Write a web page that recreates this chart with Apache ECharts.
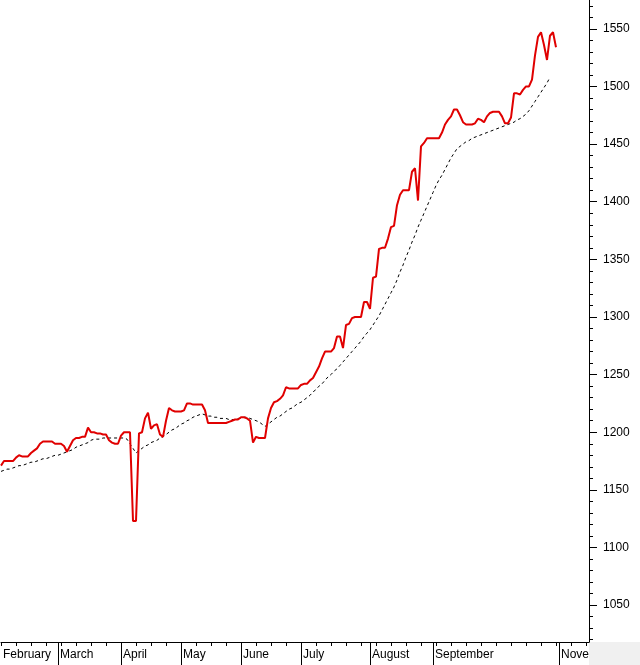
<!DOCTYPE html>
<html>
<head>
<meta charset="utf-8">
<script src="https://cdn.jsdelivr.net/npm/echarts@6/dist/echarts.min.js"></script>
<style>
  html, body { margin: 0; padding: 0; background: #fff; }
  #chart { width: 640px; height: 665px; }
</style>
</head>
<body>
<div id="chart"></div>
<script>
// trading-day index -> month label (only at month starts)
const monthStarts = { 0: 'February', 19: 'March', 40: 'April', 60: 'May', 80: 'June', 100: 'July', 123: 'August', 144: 'September', 186: 'Nove' };
const dayCount = 197;

// daily close
const closes = [
  1171, 1175, 1175, 1175, 1175, 1178, 1180, 1179, 1179, 1179,
  1182, 1184, 1186, 1190, 1192, 1192, 1192, 1192, 1190, 1190,
  1190, 1188, 1183, 1188, 1193, 1195, 1195, 1196, 1196, 1204,
  1200, 1200, 1199, 1199, 1198, 1198, 1193, 1191, 1190, 1190,
  1197, 1200, 1200, 1200, 1123, 1123, 1199, 1200, 1212, 1217,
  1203, 1206, 1207, 1198, 1196, 1210, 1221, 1219, 1218, 1218,
  1218, 1219, 1225, 1225, 1224, 1224, 1224, 1224, 1219, 1208,
  1208, 1208, 1208, 1208, 1208, 1208, 1209, 1210, 1211, 1211,
  1213, 1213, 1212, 1210, 1191, 1196, 1195, 1195, 1195, 1212,
  1221, 1226, 1227, 1229, 1232, 1239, 1238, 1238, 1238, 1238,
  1241, 1242, 1242, 1245, 1247, 1252, 1257, 1264, 1270, 1270,
  1270, 1273, 1283, 1283, 1273, 1293, 1294, 1299, 1300, 1300,
  1300, 1313, 1313, 1307, 1334, 1335, 1359, 1360, 1360, 1368,
  1378, 1379, 1397, 1406, 1410, 1410, 1410, 1426, 1429, 1401,
  1448, 1451, 1455, 1455, 1455, 1455, 1455, 1460, 1467, 1471,
  1474, 1480, 1480, 1475, 1469, 1467, 1467, 1467, 1468, 1472,
  1471, 1469, 1474, 1477, 1478, 1478, 1478, 1474, 1468, 1468,
  1473, 1494, 1494, 1493, 1497, 1500, 1500, 1506, 1527, 1543,
  1547, 1536, 1523, 1544, 1547, 1534
];

// moving average
const average = [
  1166, 1167, 1168, 1168, 1169, 1170, 1171, 1171, 1172, 1173,
  1174, 1174, 1175, 1176, 1177, 1177, 1178, 1179, 1180, 1180,
  1181, 1182, 1183, 1184, 1185, 1187, 1188, 1189, 1190, 1191,
  1193, 1194, 1194, 1194, 1195, 1195, 1195, 1195, 1195, 1195,
  1195, 1195, 1194, 1190, 1186, 1182, 1184, 1186, 1188, 1189,
  1191, 1192, 1193, 1195, 1196, 1198, 1200, 1202, 1203, 1205,
  1207, 1208, 1210, 1211, 1213, 1214, 1215, 1216, 1215, 1214,
  1214, 1213, 1213, 1212, 1212, 1212, 1211, 1211, 1211, 1212,
  1212, 1213, 1213, 1212, 1211, 1210, 1209, 1207, 1205, 1207,
  1209, 1211, 1213, 1214, 1216, 1218, 1220, 1221, 1223, 1225,
  1226, 1228, 1230, 1232, 1235, 1237, 1240, 1242, 1245, 1248,
  1250, 1253, 1255, 1258, 1261, 1264, 1267, 1270, 1273, 1276,
  1279, 1283, 1286, 1289, 1293, 1297, 1301, 1306, 1311, 1316,
  1321, 1326, 1332, 1339, 1345, 1352, 1358, 1365, 1371, 1378,
  1384, 1390, 1396, 1402, 1408, 1414, 1419, 1423, 1428, 1433,
  1438, 1442, 1446, 1448, 1450, 1452, 1453, 1455, 1456, 1457,
  1458, 1459, 1460, 1461, 1462, 1463, 1464, 1465, 1466, 1467,
  1468, 1469, 1471, 1472, 1474, 1476, 1479, 1483, 1487, 1491,
  1495, 1499, 1503, 1508
];

const priceTicks = [1050, 1100, 1150, 1200, 1250, 1300, 1350, 1400, 1450, 1500, 1550];
const minorTicks = [];
for (let v = 1020; v <= 1570; v += 10) minorTicks.push(v);

const days = [];
for (let i = 0; i < dayCount; i++) days.push(monthStarts[i] || '');

const yMin = 1018, yMax = 1575;
const font = 'Liberation Sans, Arial, sans-serif';

const chart = echarts.init(document.getElementById('chart'));
chart.setOption({
  animation: false,
  grid: { left: 0, right: 51, top: 0, bottom: 23 },
  graphic: [{
    type: 'rect', right: 0, bottom: 0,
    shape: { width: 51, height: 23 },
    style: { fill: '#f0f0f0' }, z: -1
  }],
  xAxis: [{
    type: 'category', data: days, boundaryGap: false,
    axisLine: { lineStyle: { color: '#000', width: 1 } },
    axisTick: {
      length: 23, lineStyle: { color: '#000' },
      interval: (i) => i > 0 && monthStarts[i] !== undefined
    },
    axisLabel: {
      interval: (i) => monthStarts[i] !== undefined,
      align: 'left', padding: [0, 0, 0, 2], margin: 7,
      color: '#000', fontSize: 12, fontFamily: font
    },
    splitLine: { show: false }
  }, {
    type: 'category', data: days, boundaryGap: false, position: 'bottom',
    axisLine: { show: false },
    axisTick: { length: 4, lineStyle: { color: '#000' }, interval: 4 },
    axisLabel: { show: false }
  }],
  yAxis: [{
    type: 'value', position: 'right', min: yMin, max: yMax,
    axisLine: { show: true, lineStyle: { color: '#000' } },
    axisTick: { show: true, length: 4, customValues: minorTicks, lineStyle: { color: '#000' } },
    axisLabel: { show: false },
    splitLine: { show: false }
  }, {
    type: 'value', position: 'right', min: yMin, max: yMax,
    axisLine: { show: false },
    axisTick: { show: true, length: 8, customValues: priceTicks, lineStyle: { color: '#000' } },
    axisLabel: {
      customValues: priceTicks, margin: 14, formatter: (v) => String(v),
      color: '#000', fontSize: 12, fontFamily: font
    },
    splitLine: { show: false }
  }],
  series: [{
    type: 'line', data: average, symbol: 'none', z: 2,
    lineStyle: { color: '#000', width: 1, type: [3, 3] }
  }, {
    type: 'line', data: closes, symbol: 'none', z: 3,
    lineStyle: { color: '#e00000', width: 2 }
  }]
});
</script>
</body>
</html>
